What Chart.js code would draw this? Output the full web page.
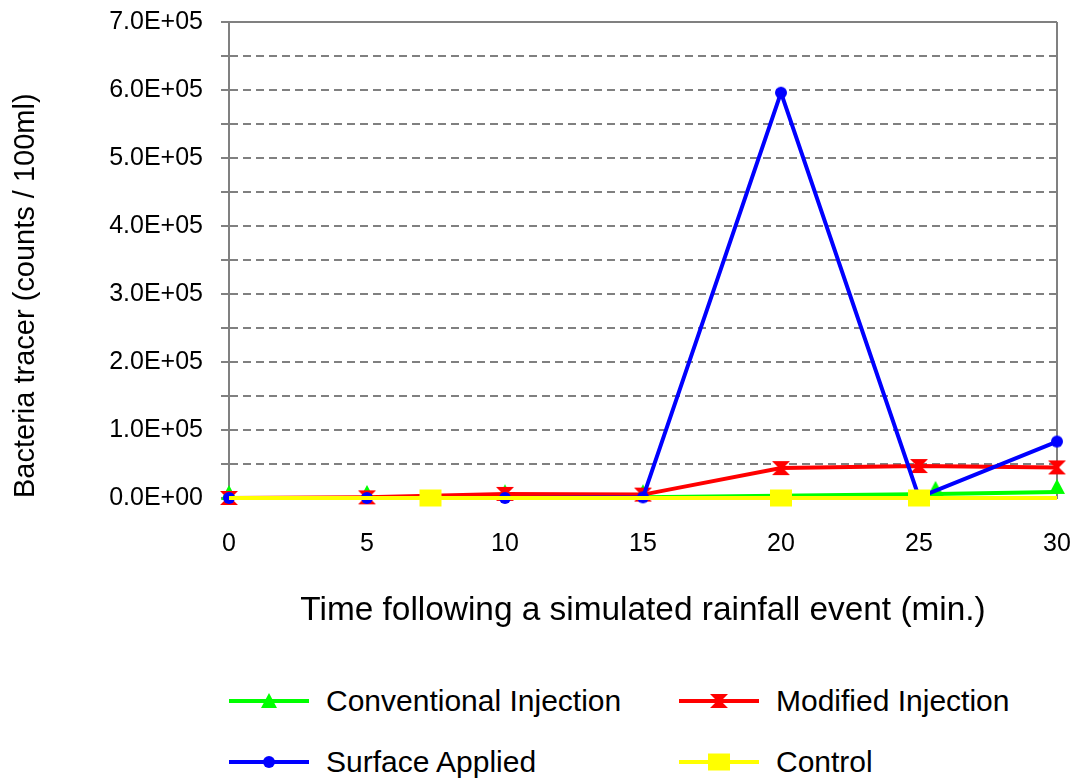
<!DOCTYPE html>
<html>
<head>
<meta charset="utf-8">
<script src="https://cdn.jsdelivr.net/npm/chart.js@4.4.0/dist/chart.umd.min.js"></script>
<style>
  body { margin: 0; background: #fff; }
  #wrap { position: relative; width: 1075px; height: 781px; font-family: "Liberation Sans", Arial, sans-serif; }
  #grafik { display: block; }
  .leg-item { position: absolute; display: flex; align-items: center; height: 40px; font-size: 30px; color: #000; white-space: nowrap; }
  .leg-item canvas { margin-right: 17px; }
</style>
</head>
<body>
<div id="wrap">
  <canvas id="grafik" width="1075" height="660"></canvas>
  <div id="legend"></div>
</div>
<script>
// --- veri ---
const convX = [0, 5, 10, 15, 25.6, 30];
const convY = [0, 0, 1000, 1000, 6000, 9000];

const modX = [0, 5, 10, 15, 20, 25, 30];
const modY = [0, 1000, 6000, 5000, 44000, 47000, 45000];

const surfX = [0, 5, 10, 15, 20, 25, 30];
const surfY = [0, 0, 0, 1000, 596000, 1000, 83000];

const ctrlX = [0, 7.3, 20, 25, 30];
const ctrlY = [0, 0, 0, 0, 0];
const ctrlMarker = [false, true, true, true, false];

const xTicks = [0, 5, 10, 15, 20, 25, 30];
const yMax = 700000;

const gray = '#808080';
const font = '"Liberation Sans", Arial, sans-serif';

// --- marker cizimleri (grafik ve lejant ayni sekli kullaniyor) ---
// lift: seklin noktanin ne kadar ustune kaydirilacagi (px)
function makeMarker(kind, color, lift) {
  lift = lift || 0;
  const c = document.createElement('canvas');
  c.width = 24; c.height = 24 + 2 * lift;
  const g = c.getContext('2d');
  g.fillStyle = color;
  g.translate(12, 12);
  g.beginPath();
  if (kind === 'triangle') {
    g.moveTo(0, -8); g.lineTo(8, 7); g.lineTo(-8, 7);
  } else if (kind === 'hourglass') {
    g.moveTo(-9, -7); g.lineTo(9, -7); g.lineTo(2, 0);
    g.lineTo(9, 7); g.lineTo(-9, 7); g.lineTo(-2, 0);
  } else if (kind === 'circle') {
    g.arc(0, 0, 6, 0, Math.PI * 2);
  } else if (kind === 'square') {
    g.rect(-11, -8.5, 22, 17);
  }
  g.closePath();
  g.fill();
  return c;
}

function sciLabel(v) {
  const parts = v.toExponential(1).split('e');
  const n = parseInt(parts[1], 10);
  return parts[0] + 'E' + (n < 0 ? '-' : '+') + String(Math.abs(n)).padStart(2, '0');
}

function lineSet(label, xs, ys, color, kind, order, show, lift) {
  return {
    label: label,
    order: order,
    clip: false,
    data: xs.map((x, i) => ({ x: x, y: ys[i] })),
    borderColor: color,
    backgroundColor: color,
    borderWidth: 4,
    tension: 0,
    fill: false,
    pointStyle: makeMarker(kind, color, lift),
    pointRadius: show ? (c => show[c.dataIndex] ? 8 : 0) : 8,
    markerKind: kind
  };
}

const datasets = [
  lineSet('Conventional Injection', convX, convY, '#00FF00', 'triangle', 3, null, 5),
  lineSet('Modified Injection', modX, modY, '#FF0000', 'hourglass', 2),
  lineSet('Surface Applied', surfX, surfY, '#0000FF', 'circle', 1),
  lineSet('Control', ctrlX, ctrlY, '#FFFF00', 'square', 0, ctrlMarker)
];

const ctx = document.getElementById('grafik').getContext('2d');
const chart = new Chart(ctx, {
  type: 'line',
  data: { datasets: datasets },
  options: {
    responsive: false,
    animation: false,
    devicePixelRatio: 1,
    layout: { padding: { top: 22, right: 18, left: 0, bottom: 0 } },
    plugins: { legend: { display: false }, tooltip: { enabled: false } },
    font: { family: font },
    scales: {
      x: {
        type: 'linear',
        min: 0, max: 30,
        afterBuildTicks: s => { s.ticks = xTicks.map(v => ({ value: v })); },
        // eksen kutusunu sabitle, etiket payi cizim alanini daraltmasin
        afterFit: s => { s.height = 162; s.paddingLeft = 0; s.paddingRight = 0; },
        ticks: { color: '#000', font: { family: font, size: 25 }, padding: 31, maxRotation: 0 },
        grid: {
          drawTicks: false,
          lineWidth: 2,
          color: c => (c.tick && c.tick.value === 30) ? gray : 'rgba(0,0,0,0)'
        },
        border: { display: true, color: gray, width: 2, dash: [] },
        title: {
          display: true,
          text: 'Time following a simulated rainfall event (min.)',
          color: '#000',
          font: { family: font, size: 33.4 },
          padding: { top: 0, bottom: 29 }
        }
      },
      y: {
        min: 0, max: yMax,
        afterFit: s => { s.width = 229; s.paddingTop = 0; s.paddingBottom = 0; },
        ticks: {
          stepSize: 50000,
          autoSkip: false,
          color: '#000',
          padding: 18,
          font: { family: font, size: 25 },
          callback: v => v % 100000 === 0 ? sciLabel(v) : ''
        },
        grid: {
          color: gray,
          lineWidth: 2,
          tickLength: 8,
          tickColor: gray,
          tickWidth: 2,
          tickBorderDash: []
        },
        border: {
          display: true, color: gray, width: 2,
          dash: c => (c.tick && c.tick.value !== yMax) ? [8, 5] : []
        },
        title: {
          display: true,
          text: 'Bacteria tracer (counts / 100ml)',
          align: 'start',
          color: '#000',
          font: { family: font, size: 29 },
          padding: { top: 9, bottom: 0 }
        }
      }
    }
  }
});

// --- lejant (iki sutunlu) ---
const legendBox = document.getElementById('legend');
const legendPos = [[229, 681], [679, 681], [229, 742], [679, 742]];
chart.data.datasets.forEach((ds, i) => {
  const item = document.createElement('div');
  item.className = 'leg-item';
  item.style.left = legendPos[i][0] + 'px';
  item.style.top = legendPos[i][1] + 'px';

  const sw = document.createElement('canvas');
  sw.width = 80; sw.height = 24;
  const g = sw.getContext('2d');
  g.strokeStyle = ds.borderColor;
  g.lineWidth = 4;
  g.beginPath(); g.moveTo(0, 12); g.lineTo(80, 12); g.stroke();
  g.drawImage(makeMarker(ds.markerKind, ds.borderColor), 28, 0);

  const txt = document.createElement('span');
  txt.textContent = ds.label;
  item.appendChild(sw);
  item.appendChild(txt);
  legendBox.appendChild(item);
});
</script>
</body>
</html>
